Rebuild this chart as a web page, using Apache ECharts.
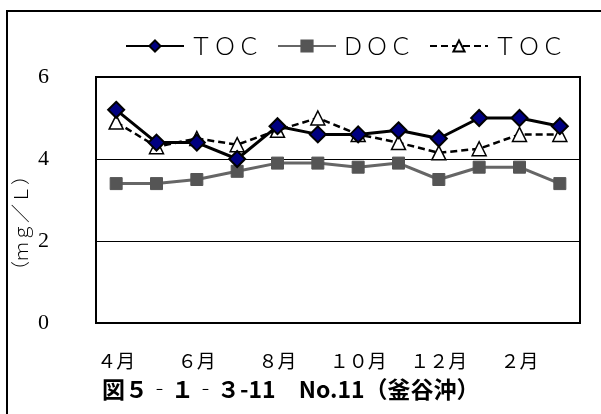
<!DOCTYPE html>
<html><head><meta charset="utf-8">
<script src="https://cdn.jsdelivr.net/npm/echarts@6/dist/echarts.min.js"></script>
<style>html,body{margin:0;padding:0;background:#fff}#c{width:601px;height:414px}</style>
</head><body><div id="c"></div>
<script>
const categories = ['４月','５月','６月','７月','８月','９月','１０月','１１月','１２月','１月','２月','３月'];
const tocValues = [5.2,4.4,4.4,4.0,4.8,4.6,4.6,4.7,4.5,5.0,5.0,4.8];
const docValues = [3.4,3.4,3.5,3.7,3.9,3.9,3.8,3.9,3.5,3.8,3.8,3.4];
const toc2Values = [4.9,4.3,4.5,4.35,4.7,5.0,4.6,4.4,4.15,4.25,4.6,4.6];
const seriesNames = ['ＴＯＣ','ＤＯＣ','ＴＯＣ '];
const yTicks = [0,2,4,6];
const titleText = '図５‐１‐３-11　No.11（釜谷沖）';
const yName = '（ｍｇ／Ｌ）';

const serif = "'Liberation Serif','DejaVu Serif','Noto Sans CJK JP',serif";
const cjk = "'Noto Sans CJK JP',sans-serif";
const chart = echarts.init(document.getElementById('c'), null, {renderer:'canvas'});
chart.setOption({
  animation:false,
  backgroundColor:'#fff',
  grid:{left:96,right:21,top:77,bottom:91,show:true,borderColor:'#000',borderWidth:2,backgroundColor:'transparent'},
  legend:{
    top:29,left:120,itemWidth:58,itemHeight:14,itemGap:16,
    textStyle:{fontFamily:cjk,fontSize:24,fontWeight:300,color:'#000'},
    data:seriesNames
  },
  xAxis:{
    type:'category',data:categories,boundaryGap:true,
    axisLine:{lineStyle:{color:'#000',width:2}},
    axisTick:{inside:true,length:5,interval:0,lineStyle:{color:'#000',width:1}},
    axisLabel:{interval:1,margin:28,fontFamily:cjk,fontSize:19,fontWeight:'normal',color:'#000'}
  },
  yAxis:{
    type:'value',min:yTicks[0],max:yTicks[yTicks.length-1],interval:2,
    axisLine:{show:false},axisTick:{show:false},
    axisLabel:{margin:47,fontFamily:serif,fontSize:22,color:'#000'},
    splitLine:{lineStyle:{color:'#000',width:1}}
  },
  graphic:[
    {type:'rect',shape:{x:7,y:11,width:610,height:420},style:{fill:null,stroke:'#000',lineWidth:2},silent:true,z:-1},
    {type:'text',left:102,top:378,style:{text:titleText,font:"bold 23px 'Noto Sans CJK JP'",fill:'#000'}},
    {type:'text',x:21,y:223,rotation:Math.PI/2,style:{text:yName,font:"300 19px 'Noto Sans CJK JP'",fill:'#000',align:'center',verticalAlign:'middle'}}
  ],
  series:[
    {name:seriesNames[0],type:'line',data:tocValues,symbol:'diamond',symbolSize:16,z:4,
     lineStyle:{color:'#000',width:3},itemStyle:{color:'#000080',borderColor:'#000',borderWidth:2}},
    {name:seriesNames[1],type:'line',data:docValues,symbol:'rect',symbolSize:12,z:3,
     lineStyle:{color:'#666',width:3},itemStyle:{color:'#555',borderColor:'#555',borderWidth:1}},
    {name:seriesNames[2],type:'line',data:toc2Values,symbol:'triangle',symbolSize:14,z:2,
     lineStyle:{color:'#000',width:2.5,type:[7,4]},itemStyle:{color:'#fff',borderColor:'#000',borderWidth:1.5}}
  ]
});
</script></body></html>
